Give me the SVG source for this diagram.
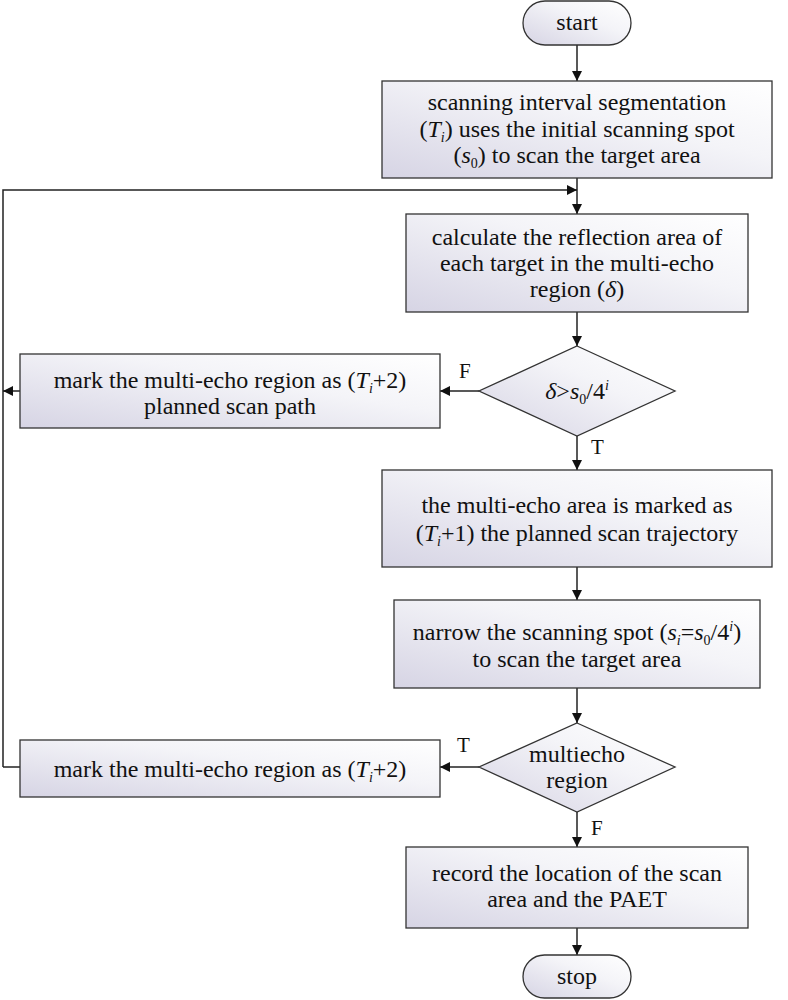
<svg xmlns="http://www.w3.org/2000/svg" width="788" height="1000" viewBox="0 0 788 1000" font-family="Liberation Serif, DejaVu Serif, serif">
<style>
.n{stroke:#333;stroke-width:1.3;fill:url(#g)}
text{font-family:"Liberation Serif","DejaVu Serif",serif}
.t{font-size:24px;fill:#111;text-anchor:middle}
.i{font-style:italic}
.l{font-size:21px;fill:#111}
.c{stroke:#222;stroke-width:1.5;fill:none}
</style>
<defs>
<linearGradient id="g" x1="0" y1="1" x2="1" y2="0">
<stop offset="0" stop-color="#d6d4e4"/><stop offset="0.6" stop-color="#f4f4f8"/><stop offset="1" stop-color="#ffffff"/>
</linearGradient>
<marker id="a" viewBox="0 0 10 10" refX="10" refY="5" markerWidth="10" markerHeight="10" markerUnits="userSpaceOnUse" orient="auto"><path d="M0,0L10,5L0,10z" fill="#111"/></marker>
</defs>
<g id="connectors">
<path class="c" d="M577,45V81" marker-end="url(#a)"/>
<path class="c" d="M577,178V214" marker-end="url(#a)"/>
<path class="c" d="M3,767V190H577" marker-end="url(#a)"/>
<path class="c" d="M577,312V346" marker-end="url(#a)"/>
<path class="c" d="M479,391H440" marker-end="url(#a)"/>
<path class="c" d="M20,391H3" marker-end="url(#a)"/>
<path class="c" d="M577,436V470" marker-end="url(#a)"/>
<path class="c" d="M577,567V600" marker-end="url(#a)"/>
<path class="c" d="M577,688V723" marker-end="url(#a)"/>
<path class="c" d="M479,767H440" marker-end="url(#a)"/>
<path class="c" d="M20,767H3"/>
<path class="c" d="M577,812V847" marker-end="url(#a)"/>
<path class="c" d="M577,928V955" marker-end="url(#a)"/>
<text class="l" x="459" y="378">F</text>
<text class="l" x="591" y="454">T</text>
<text class="l" x="457" y="752">T</text>
<text class="l" x="591" y="835">F</text>
</g>
<g id="start"><rect class="n" x="523" y="1" width="108" height="44" rx="22"/><text class="t" x="577" y="30">start</text></g>
<g id="seg"><rect class="n" x="382" y="81" width="390" height="97"/>
<text class="t" x="577" y="110">scanning interval segmentation</text>
<text class="t" x="577" y="137">(<tspan class="i">T</tspan><tspan class="i" font-size="14" dy="5">i</tspan><tspan dy="-5">) uses the initial scanning spot</tspan></text>
<text class="t" x="577" y="163">(<tspan class="i">s</tspan><tspan font-size="14" dy="5">0</tspan><tspan dy="-5">) to scan the target area</tspan></text></g>
<g id="calc"><rect class="n" x="406" y="214" width="342" height="98"/>
<text class="t" x="577" y="245">calculate the reflection area of</text>
<text class="t" x="577" y="271">each target in the multi-echo</text>
<text class="t" x="577" y="297">region (<tspan class="i">δ</tspan>)</text></g>
<g id="d1"><polygon class="n" points="577,346 675,391 577,436 479,391"/>
<text class="t" x="577" y="399"><tspan class="i">δ</tspan>&gt;<tspan class="i">s</tspan><tspan font-size="14" dy="5">0</tspan><tspan dy="-5">/4</tspan><tspan class="i" font-size="14" dy="-9">i</tspan></text></g>
<g id="mark1"><rect class="n" x="20" y="354" width="420" height="74"/>
<text class="t" x="230" y="388">mark the multi-echo region as (<tspan class="i">T</tspan><tspan class="i" font-size="14" dy="5">i</tspan><tspan dy="-5">+2)</tspan></text>
<text class="t" x="230" y="414">planned scan path</text></g>
<g id="mark2"><rect class="n" x="382" y="470" width="390" height="97"/>
<text class="t" x="577" y="513">the multi-echo area is marked as</text>
<text class="t" x="577" y="541">(<tspan class="i">T</tspan><tspan class="i" font-size="14" dy="5">i</tspan><tspan dy="-5">+1) the planned scan trajectory</tspan></text></g>
<g id="narrow"><rect class="n" x="394" y="600" width="366" height="88"/>
<text class="t" x="577" y="640">narrow the scanning spot (<tspan class="i">s</tspan><tspan class="i" font-size="14" dy="5">i</tspan><tspan dy="-5">=</tspan><tspan class="i">s</tspan><tspan font-size="14" dy="5">0</tspan><tspan dy="-5">/4</tspan><tspan class="i" font-size="14" dy="-9">i</tspan><tspan dy="9">)</tspan></text>
<text class="t" x="577" y="667">to scan the target area</text></g>
<g id="d2"><polygon class="n" points="577,723 675,767 577,812 479,767"/>
<text class="t" x="577" y="762">multiecho</text>
<text class="t" x="577" y="788">region</text></g>
<g id="mark3"><rect class="n" x="20" y="740" width="420" height="57"/>
<text class="t" x="230" y="777">mark the multi-echo region as (<tspan class="i">T</tspan><tspan class="i" font-size="14" dy="5">i</tspan><tspan dy="-5">+2)</tspan></text></g>
<g id="record"><rect class="n" x="406" y="847" width="342" height="81"/>
<text class="t" x="577" y="881">record the location of the scan</text>
<text class="t" x="577" y="907">area and the PAET</text></g>
<g id="stop"><rect class="n" x="523" y="955" width="108" height="43" rx="21.5"/><text class="t" x="577" y="984">stop</text></g>
</svg>
